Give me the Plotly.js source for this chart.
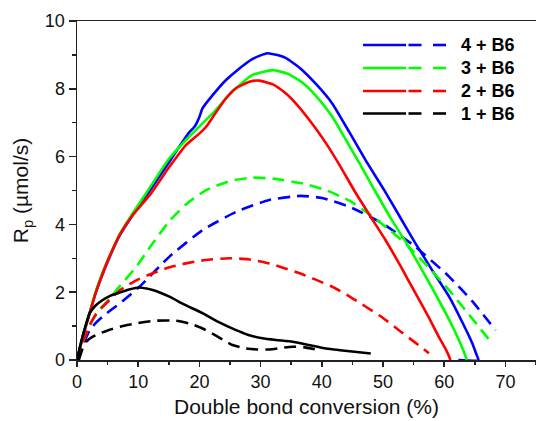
<!DOCTYPE html>
<html>
<head>
<meta charset="utf-8">
<script src="https://cdn.plot.ly/plotly-3.0.1.min.js"></script>
<style>
  html, body { margin: 0; padding: 0; background: #fff; }
  #chart { width: 536px; height: 421px; }
</style>
</head>
<body>
<div id="chart"></div>
<script>
// ---- Data ----
const labels = ['4 + B6', '3 + B6', '2 + B6', '1 + B6'];
const colors = ['#0000FF', '#00FF00', '#FF0000', '#000000'];

// solid curves
const x4s = [0, 1, 2.07, 3, 4, 5.3, 7, 9, 11.6, 15.1, 16.7, 18.4, 19.2, 20.0, 20.5, 22.2, 24.35, 26.0, 28.7, 31.1, 34.0, 36.5, 39.0, 41.7, 44.5, 47.2, 50.2, 52.7, 55.3, 58.0, 60.8, 63.0, 64.6, 65.3, 65.6, 62.3];
const y4s = [0, 0.72, 1.38, 1.95, 2.45, 3.02, 3.68, 4.25, 4.92, 5.85, 6.29, 6.73, 6.88, 7.17, 7.42, 7.82, 8.26, 8.52, 8.88, 9.05, 8.92, 8.6, 8.15, 7.57, 6.72, 5.88, 5.01, 4.24, 3.44, 2.66, 1.87, 1.1, 0.49, 0.15, 0, 0];

const x3s = [0, 1, 2.07, 3, 4, 5.3, 7, 9, 11.3, 15.1, 17.8, 20.5, 22.2, 24.35, 26.0, 28.7, 32.0, 34.5, 36.9, 39.0, 41.7, 44.0, 46.1, 48.5, 51.3, 54.2, 56.7, 59.1, 61.0, 62.4, 63.2, 63.7];
const y3s = [0, 0.74, 1.4, 1.98, 2.5, 3.05, 3.72, 4.3, 4.92, 5.95, 6.49, 6.98, 7.28, 7.72, 8.02, 8.41, 8.55, 8.44, 8.17, 7.8, 7.18, 6.47, 5.82, 5.05, 4.17, 3.34, 2.55, 1.77, 1.12, 0.59, 0.25, 0];

const x2s = [0, 1, 2.07, 3, 4, 5.3, 7, 9, 11.9, 15.1, 17.8, 20.3, 21.1, 22.2, 24.35, 26.0, 28.2, 29.8, 32.0, 34.0, 36.0, 38.0, 40.7, 43.0, 45.4, 48.0, 50.4, 52.9, 55.3, 57.3, 59.1, 60.3, 60.9, 61.0];
const y2s = [0, 0.74, 1.38, 1.95, 2.46, 3.05, 3.7, 4.25, 4.87, 5.7, 6.34, 6.73, 6.88, 7.17, 7.72, 8.02, 8.21, 8.24, 8.13, 7.88, 7.52, 7.07, 6.39, 5.72, 4.97, 4.22, 3.54, 2.76, 1.97, 1.32, 0.69, 0.3, 0.06, 0];

const x1s = [0, 0.5, 1, 2.07, 3, 4.2, 5.5, 7, 8.5, 10.2, 12.5, 15.1, 17.5, 20.5, 23.0, 26.0, 28.0, 30.3, 32.5, 35.2, 37.5, 40.7, 43.0, 46.1, 48.0];
const y1s = [0, 0.4, 0.75, 1.38, 1.6, 1.77, 1.9, 1.99, 2.08, 2.14, 2.06, 1.87, 1.64, 1.38, 1.13, 0.88, 0.74, 0.64, 0.59, 0.54, 0.46, 0.34, 0.29, 0.23, 0.19];

// dashed curves
const x4d = [0, 1, 2.07, 3, 4.2, 5.5, 7.0, 10.2, 15.1, 20.5, 26.0, 31.4, 36.5, 40.0, 44.5, 49.9, 55.3, 60.8, 64.5, 68.4];
const y4d = [0, 0.45, 0.88, 1.08, 1.28, 1.47, 1.67, 2.16, 3.05, 3.83, 4.37, 4.72, 4.84, 4.78, 4.52, 4.03, 3.34, 2.46, 1.75, 0.88];

const x3d = [0, 1, 2, 3.5, 5.3, 7.0, 9.7, 12.0, 15.1, 18.0, 21.1, 25.0, 28.7, 32.0, 36.8, 40.7, 44.5, 48.3, 51.3, 54.2, 57.5, 60.8, 64.0, 67.6];
const y3d = [0, 0.55, 1.0, 1.45, 1.8, 2.18, 2.75, 3.35, 4.1, 4.62, 5.01, 5.28, 5.38, 5.35, 5.21, 5.01, 4.7, 4.23, 3.8, 3.34, 2.72, 2.06, 1.35, 0.54];

const x2d = [0, 1, 2, 3.2, 4.2, 5.5, 7.0, 10.0, 12.4, 15.0, 17.8, 21.0, 24.9, 28.0, 31.4, 34.0, 36.5, 39.0, 41.7, 44.5, 47.2, 50.0, 52.6, 55.0, 57.5];
const y2d = [0, 0.55, 1.0, 1.38, 1.57, 1.8, 2.06, 2.38, 2.56, 2.73, 2.85, 2.95, 3.0, 2.97, 2.85, 2.7, 2.55, 2.37, 2.16, 1.88, 1.57, 1.24, 0.88, 0.55, 0.2];

const x1d = [0.3, 1.0, 1.5, 2.5, 3.5, 5.1, 7.5, 9.7, 12.9, 16.2, 18.5, 20.5, 22.5, 24.0, 25.4, 27.6, 29.5, 31.4, 33.5, 35.2, 37.0, 39.6];
const y1d = [0, 0.38, 0.54, 0.68, 0.77, 0.88, 1.0, 1.08, 1.16, 1.16, 1.07, 0.93, 0.74, 0.58, 0.44, 0.34, 0.31, 0.31, 0.36, 0.39, 0.38, 0.29];

const solidX = [x4s, x3s, x2s, x1s];
const solidY = [y4s, y3s, y2s, y1s];
const dashX = [x4d, x3d, x2d, x1d];
const dashY = [y4d, y3d, y2d, y1d];

// ---- Traces ----
const traces = [];
for (let i = 0; i < 4; i++) {
  traces.push({
    x: solidX[i], y: solidY[i], type: 'scatter', mode: 'lines', name: labels[i],
    line: { color: colors[i], width: 2.6, shape: 'spline', smoothing: 0.5 },
    showlegend: false, hoverinfo: 'skip'
  });
  traces.push({
    x: dashX[i], y: dashY[i], type: 'scatter', mode: 'lines', name: labels[i] + ' (dashed)',
    line: { color: colors[i], width: 2.6, dash: '12px,7px', shape: 'spline', smoothing: 0.5 },
    showlegend: false, hoverinfo: 'skip'
  });
}

// ---- Manual legend (solid + dashed sample) ----
const L = 77, R = 536, T = 21, B = 360;
const px = v => (v - L) / (R - L);
const py = v => (B - v) / (B - T);
const legendRows = [45, 68, 91, 113.5];
const shapes = [];
const annotations = [];
for (let i = 0; i < 4; i++) {
  const yy = py(legendRows[i]);
  const segs = [[363, 406], [408.5, 421.5], [433, 446]];
  segs.forEach(s => shapes.push({
    type: 'line', xref: 'paper', yref: 'paper',
    x0: px(s[0]), x1: px(s[1]), y0: yy, y1: yy,
    line: { color: colors[i], width: 2.6 }
  }));
  annotations.push({
    xref: 'paper', yref: 'paper', x: px(459), y: yy,
    xanchor: 'left', yanchor: 'middle', showarrow: false,
    text: '<b>' + labels[i] + '</b>',
    font: { family: 'Arial, "Liberation Sans", sans-serif', size: 18, color: '#000' }
  });
}

const tickFont = { family: 'Arial, "Liberation Sans", sans-serif', size: 18, color: '#111' };
const titleFont = { family: 'Arial, "Liberation Sans", sans-serif', size: 21, color: '#111' };

const layout = {
  width: 536, height: 421,
  margin: { l: L, r: 536 - R, t: T, b: 421 - B },
  paper_bgcolor: '#fff', plot_bgcolor: '#fff',
  font: tickFont,
  showlegend: false,
  xaxis: {
    range: [0, 75], tick0: 0, dtick: 10,
    ticks: 'outside', ticklen: 5, tickwidth: 1.5, tickcolor: '#222',
    showline: true, linecolor: '#222', linewidth: 1.5, mirror: true,
    showgrid: false, zeroline: false,
    minor: { dtick: 5, ticks: 'outside', ticklen: 3, tickwidth: 1.5, tickcolor: '#222', showgrid: false },
    tickfont: tickFont,
    title: { text: 'Double bond conversion (%)', font: titleFont, standoff: 8 }
  },
  yaxis: {
    range: [0, 10], tick0: 0, dtick: 2,
    ticks: 'outside', ticklen: 7, tickwidth: 1.5, tickcolor: '#222',
    showline: true, linecolor: '#222', linewidth: 1.5, mirror: false,
    showgrid: false, zeroline: false,
    minor: { dtick: 1, ticks: 'outside', ticklen: 4, tickwidth: 1.5, tickcolor: '#222', showgrid: false },
    tickfont: tickFont,
    title: { text: 'R<sub>p</sub> (µmol/s)', font: titleFont, standoff: 10 }
  },
  shapes: shapes,
  annotations: annotations
};

Plotly.newPlot('chart', traces, layout, { displayModeBar: false, staticPlot: true });
</script>
</body>
</html>
